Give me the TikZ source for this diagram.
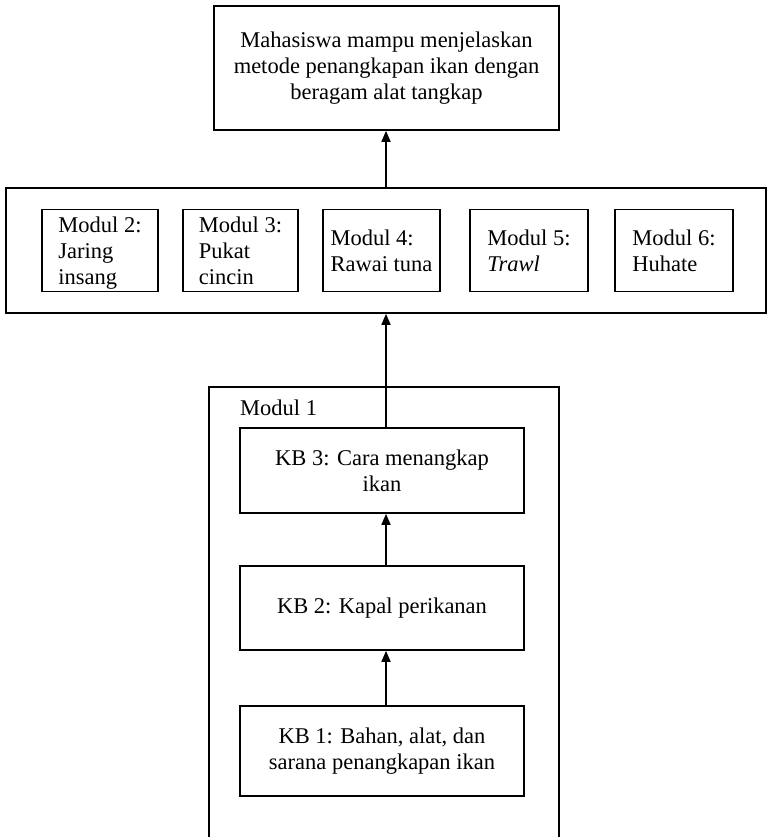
\documentclass[tikz,border=0pt]{standalone}
\usepackage{fontspec}
\setmainfont{Liberation Serif}
\usetikzlibrary{arrows.meta}
\newcommand{\lowtxt}[1]{\raisebox{-3pt}[\height][\depth]{\begin{tabular}{@{}l@{}}#1\end{tabular}}}
\begin{document}
\begin{tikzpicture}[x=1pt,y=-1pt,
  box/.style={draw, line width=1.7pt, inner sep=0pt, font=\fontsize{22.5}{26}\selectfont},
  mbox/.style={box, minimum height=82pt},
  kbbox/.style={box, minimum width=284pt, align=center},
  arr/.style={line width=1.7pt, -{Triangle[length=11pt,width=9pt]}},
  lbl/.style={inner sep=0pt, font=\fontsize{22.5}{26}\selectfont}]
\useasboundingbox (0,0) rectangle (769,837);
% top goal box
\node[box, minimum width=345pt, minimum height=124pt, align=center] (goal) at (386.5,68)
  {Mahasiswa mampu menjelaskan\\metode penangkapan ikan dengan\\beragam alat tangkap};
% module row container
\node[box, minimum width=760pt, minimum height=125pt] (row) at (386,250.5) {};
\node[mbox, minimum width=116pt] (m2) at (100,250.5) {\lowtxt{Modul 2:\\Jaring\\insang}};
\node[mbox, minimum width=115pt] (m3) at (240.5,250.5) {\lowtxt{Modul 3:\\Pukat\\cincin}};
\node[mbox, minimum width=117pt] (m4) at (381.5,250.5) {\lowtxt{Modul 4:\\Rawai tuna}};
\node[mbox, minimum width=118pt] (m5) at (529,250.5) {\lowtxt{Modul 5:\\\textit{Trawl}}};
\node[mbox, minimum width=118pt] (m6) at (674,250.5) {\lowtxt{Modul 6:\\Huhate}};
% Modul 1 container (open at bottom)
\coordinate (c1) at (209,840);
\coordinate (c2) at (209,387);
\coordinate (c3) at (559,387);
\coordinate (c4) at (559,840);
\draw[line width=1.7pt] (c1) -- (c2) -- (c3) -- (c4);
\node[lbl, anchor=west] (m1lbl) at (240,408) {Modul 1};
% learning activity boxes
\node[kbbox, minimum height=85pt] (kb3) at (382,470.5) {KB 3: Cara menangkap\\ikan};
\node[kbbox, minimum height=84pt] (kb2) at (382,608) {KB 2: Kapal perikanan};
\node[kbbox, minimum height=90pt] (kb1) at (382,751) {KB 1: Bahan, alat, dan\\sarana penangkapan ikan};
% connectors
\coordinate (ax) at (386,0);
\draw[arr] (kb1.north -| ax) -- (kb2.south -| ax);
\draw[arr] (kb2.north -| ax) -- (kb3.south -| ax);
\draw[arr] (kb3.north -| ax) -- (row.south -| ax);
\draw[arr] (row.north -| ax) -- (goal.south -| ax);
\end{tikzpicture}
\end{document}
